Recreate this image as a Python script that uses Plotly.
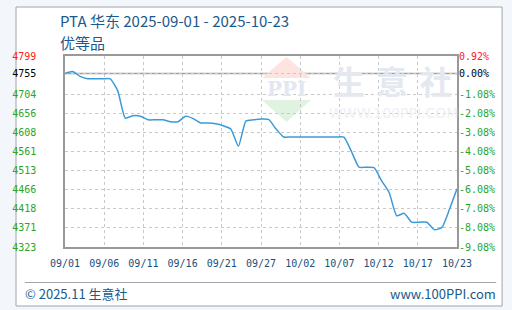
import datetime as dt
import plotly.graph_objects as go

# ---------------- data ----------------
start_date = "2025-09-01"
prices = [4755, 4760, 4748, 4742, 4742, 4742, 4742, 4712, 4644, 4650,
          4649, 4640, 4640, 4640, 4635, 4635, 4649, 4643, 4632, 4632,
          4630, 4625, 4617, 4574, 4637, 4640, 4642, 4641, 4617, 4597,
          4597, 4597, 4597, 4597, 4597, 4597, 4597, 4597, 4561, 4522,
          4522, 4521, 4488, 4459, 4401, 4407, 4385, 4385, 4385, 4366,
          4372, 4417, 4468]
x_tick_labels = ["09/01", "09/06", "09/11", "09/16", "09/21", "09/27",
                 "10/02", "10/07", "10/12", "10/17", "10/23"]
pct_ticks = [0.92, 0.00, -1.08, -2.08, -3.08, -4.08, -5.08, -6.08, -7.08, -8.08, -9.08]
left_tick_labels = ["4799", "4755", "4704", "4656", "4608", "4561", "4513",
                    "4466", "4418", "4371", "4323"]

title_text = "PTA 华东 2025-09-01 - 2025-10-23"
subtitle_text = "优等品"
footer_left = "© 2025.11 生意社"
footer_right = "www.100PPI.com"

# ---------------- derived ----------------
d0 = dt.datetime.fromisoformat(start_date)
dates = [d0 + dt.timedelta(days=i) for i in range(len(prices))]
base = prices[0]
span_days = len(prices) - 1
n_int = len(x_tick_labels) - 1
x_tickvals = [d0 + dt.timedelta(days=span_days * i / n_int) for i in range(len(x_tick_labels))]

y_vals = [base * (1 + p / 100) for p in pct_ticks]

def colr(p):
    return "#ff2020" if p > 0 else ("#000000" if p == 0 else "#2aa52a")

left_text = [f'<span style="color:{colr(p)}">{t}</span>' for p, t in zip(pct_ticks, left_tick_labels)]
right_text = [f'<span style="color:{colr(p)}">{p:.2f}%</span>' for p in pct_ticks]
yr = [min(y_vals), max(y_vals)]

# layout geometry (pixels)
W, H = 512, 310
L, R, T, B = 57, 457, 56, 247


def px(x):
    return (x - L) / (R - L)


def py(y):
    return (B - y) / (B - T)


fig = go.Figure()
fig.add_trace(go.Scatter(
    x=dates, y=prices, mode="lines",
    line=dict(color="#3a9ad9", width=1.5, shape="spline", smoothing=0.5),
    hoverinfo="x+y", showlegend=False))
# invisible trace to activate y2
fig.add_trace(go.Scatter(x=[dates[0]], y=[base], yaxis="y2", mode="markers",
                         marker=dict(opacity=0), showlegend=False, hoverinfo="skip"))

tick_font = dict(family="DejaVu Sans Mono", size=10, color="#1a4f7a")

fig.update_layout(
    width=W, height=H,
    margin=dict(l=L, r=W - R, t=T, b=H - B, pad=0),
    paper_bgcolor="#f3f7fc",
    plot_bgcolor="rgba(0,0,0,0)",
    xaxis=dict(
        type="date",
        range=[dates[0], dates[-1]],
        tickmode="array", tickvals=x_tickvals, ticktext=x_tick_labels,
        showgrid=True, gridcolor="#c8c8c8", griddash="3px,3px", gridwidth=1,
        showline=True, linecolor="#999999", linewidth=1.5, mirror=True,
        ticks="", tickfont=tick_font, ticklabelstandoff=6,
        zeroline=False, fixedrange=True,
    ),
    yaxis=dict(
        range=yr,
        tickmode="array", tickvals=y_vals, ticktext=left_text,
        showgrid=True, gridcolor="#c8c8c8", griddash="3px,3px", gridwidth=1,
        showline=True, linecolor="#999999", linewidth=1.5, mirror=True,
        ticks="", tickfont=dict(family="DejaVu Sans Mono", size=10),
        ticklabelstandoff=25, zeroline=False, fixedrange=True,
    ),
    yaxis2=dict(
        range=yr, overlaying="y", side="right",
        tickmode="array", tickvals=y_vals, ticktext=right_text,
        showgrid=False, showline=False, ticks="",
        tickfont=dict(family="DejaVu Sans Mono", size=10),
        ticklabelstandoff=1, zeroline=False, fixedrange=True,
    ),
)

shapes = []
# outer white box
shapes.append(dict(type="rect", xref="paper", yref="paper", layer="below",
                   x0=px(7), x1=px(503), y0=py(306), y1=py(7),
                   fillcolor="#ffffff", line=dict(color="#a0a4aa", width=1)))
# base reference line
shapes.append(dict(type="line", xref="paper", yref="y", x0=0, x1=1, y0=base, y1=base,
                   line=dict(color="#a0a0a0", width=1.5), layer="below"))
# footer separator
shapes.append(dict(type="line", xref="paper", yref="paper", x0=px(16), x1=px(497),
                   y0=py(282.5), y1=py(282.5), line=dict(color="#a0a4aa", width=1)))
# watermark logo triangles
shapes.append(dict(type="path", xref="paper", yref="paper", layer="below",
                   path=f"M {px(283)},{py(57)} L {px(258)},{py(78)} L {px(308)},{py(78)} Z",
                   fillcolor="#fde4e0", line=dict(width=0)))
shapes.append(dict(type="path", xref="paper", yref="paper", layer="below",
                   path=f"M {px(258)},{py(100)} L {px(308)},{py(100)} L {px(283)},{py(122)} Z",
                   fillcolor="#e0f2e0", line=dict(width=0)))
fig.update_layout(shapes=shapes)

ann = []
ann.append(dict(text=title_text, xref="paper", yref="paper", x=px(50), y=py(20),
                xanchor="left", yanchor="middle", showarrow=False,
                font=dict(family="Noto Sans CJK SC", size=15, color="#1a5a8c")))
ann.append(dict(text=subtitle_text, xref="paper", yref="paper", x=px(50), y=py(42),
                xanchor="left", yanchor="middle", showarrow=False,
                font=dict(family="Noto Sans CJK SC", size=15, color="#1a5a8c")))
ann.append(dict(text=footer_left, xref="paper", yref="paper", x=px(14), y=py(293),
                xanchor="left", yanchor="middle", showarrow=False,
                font=dict(family="Noto Sans CJK SC", size=13, color="#1a5a8c")))
ann.append(dict(text=footer_right, xref="paper", yref="paper", x=px(499), y=py(293),
                xanchor="right", yanchor="middle", showarrow=False,
                font=dict(family="Noto Sans CJK SC", size=13, color="#1a5a8c")))
# watermark text
ann.append(dict(text="<b>PPI</b>", xref="paper", yref="paper", x=px(283), y=py(89),
                xanchor="center", yanchor="middle", showarrow=False,
                font=dict(family="DejaVu Serif", size=20, color="#e2e7f1")))
for ch, cx in zip("生意社", [347, 391, 436]):
    ann.append(dict(text=f"<b>{ch}</b>", xref="paper", yref="paper", x=px(cx), y=py(80),
                    xanchor="center", yanchor="middle", showarrow=False,
                    font=dict(family="Noto Sans CJK SC", size=32, color="#e4e8f0")))
ann.append(dict(text="WWW.100PPI.COM", xref="paper", yref="paper", x=px(392), y=py(113),
                xanchor="center", yanchor="middle", showarrow=False,
                font=dict(family="DejaVu Sans", size=14, color="#eef0f4")))
fig.update_layout(annotations=ann)

fig.write_html("out.html")
